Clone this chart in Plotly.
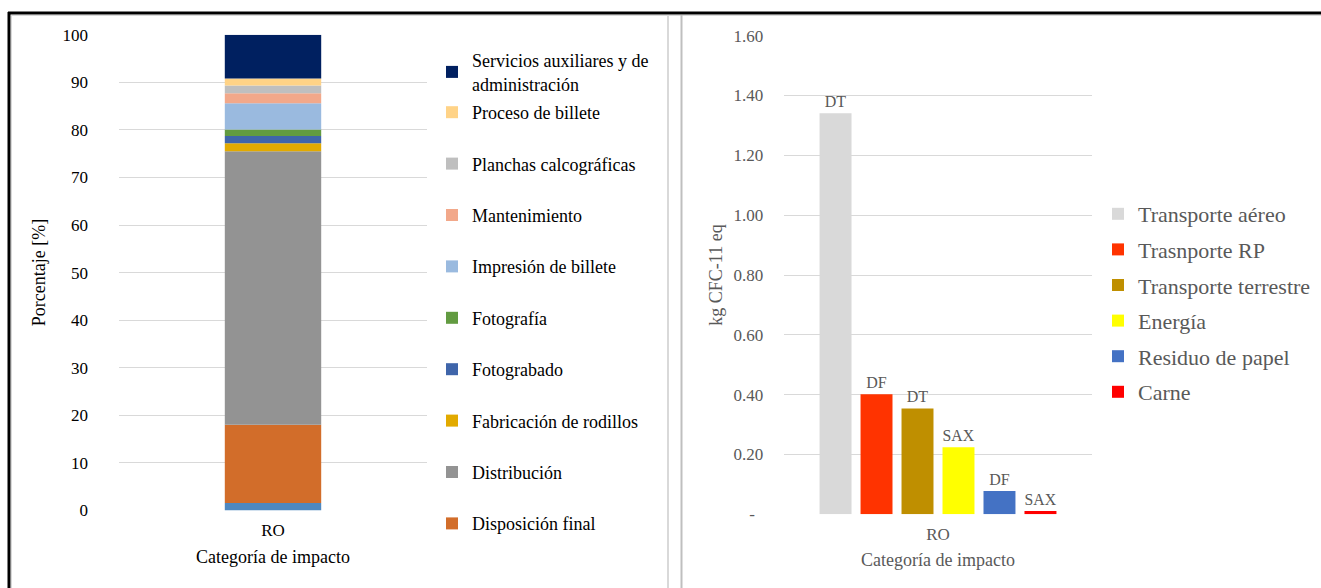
import numpy as np
import plotly.graph_objects as go

W, H = 1321, 588
FONT = "Liberation Serif"

# left chart: contribution by stage, percent (stacked bottom -> top)
stages = [
    "Otros",
    "Disposición final",
    "Distribución",
    "Fabricación de rodillos",
    "Fotograbado",
    "Fotografía",
    "Impresión de billete",
    "Mantenimiento",
    "Planchas calcográficas",
    "Proceso de billete",
    "Servicios auxiliares y de<br>administración",
]
stage_pct = [1.6, 16.4, 57.5, 1.7, 1.5, 1.4, 5.5, 2.1, 1.6, 1.5, 9.2]
stage_colors = [
    "#4E88C0", "#D26D2A", "#939393", "#E2AA00", "#3F65AA", "#629B41",
    "#9ABADF", "#F2A88A", "#BFBFBF", "#FFD387", "#002060",
]

# right chart: ozone depletion by source, kg CFC-11 eq
sources = ["Transporte aéreo", "Trasnporte RP", "Transporte terrestre",
           "Energía", "Residuo de papel", "Carne"]
source_vals = [1.341, 0.401, 0.354, 0.224, 0.078, 0.011]
source_tags = ["DT", "DF", "DT", "SAX", "DF", "SAX"]
source_colors = ["#D9D9D9", "#FF3300", "#BF8F00", "#FFFF00", "#4472C4", "#FF0000"]

category = ["RO"]
right_ticks = [0, 0.2, 0.4, 0.6, 0.8, 1.0, 1.2, 1.4, 1.6]


def px_x(x):
    return x / W


def px_y(y):
    return 1 - y / H


fig = go.Figure()

bases = np.concatenate([[0], np.cumsum(stage_pct)[:-1]])
last = len(stages) - 1
for i, (name, val, col) in enumerate(zip(stages, stage_pct, stage_colors)):
    fig.add_trace(go.Bar(
        x=category, y=[val], base=[bases[i]], name=name,
        marker_color=col, marker_line_width=0,
        width=0.313, offset=-0.1565, offsetgroup="stack",
        legendgroup=f"s{i}", legendrank=100 - i,
        showlegend=(i > 0),
        # the two-line entry sits in its own legend so spacing stays even
        legend="legend3" if i == last else "legend",
        xaxis="x", yaxis="y",
    ))

for i, (name, val, tag, col) in enumerate(zip(sources, source_vals, source_tags, source_colors)):
    fig.add_trace(go.Bar(
        x=category, y=[val], name=name, text=[tag],
        textposition="outside", cliponaxis=False,
        textfont=dict(family=FONT, size=16, color="#595959"),
        marker_color=col, marker_line_width=0,
        legendgroup=f"r{i}", legendrank=200 + i, legend="legend2",
        xaxis="x2", yaxis="y2",
    ))

axis_common = dict(showline=False, zeroline=False, ticks="")
black = dict(family=FONT, color="black")
gray = dict(family=FONT, color="#595959")
fig.update_layout(
    width=W, height=H, autosize=False,
    margin=dict(l=0, r=0, t=0, b=0, autoexpand=False),
    paper_bgcolor="white", plot_bgcolor="white",
    font=dict(family=FONT, size=17, color="black"),
    barmode="group", bargap=0.2, bargroupgap=0.22,
    xaxis=dict(
        domain=[px_x(119), px_x(427)], anchor="y", type="category",
        range=[-0.5, 0.5], showgrid=False,
        tickfont=dict(size=17, **black), ticklabelstandoff=7,
        title=dict(text="Categoría de impacto", font=dict(size=18, **black), standoff=11),
        **axis_common,
    ),
    yaxis=dict(
        domain=[px_y(510.5), px_y(34.7)], anchor="x", range=[0, 100],
        dtick=10, gridcolor="#D9D9D9", gridwidth=1,
        tickfont=dict(size=17, **black), ticklabelstandoff=30,
        title=dict(text="Porcentaje [%]", font=dict(size=18, **black), standoff=12),
        **axis_common,
    ),
    xaxis2=dict(
        domain=[px_x(784.3), px_x(1091.7)], anchor="y2", type="category",
        range=[-0.5, 0.5], showgrid=False,
        tickfont=dict(size=17, **gray), ticklabelstandoff=8,
        title=dict(text="Categoría de impacto", font=dict(size=18, **gray), standoff=10),
        **axis_common,
    ),
    yaxis2=dict(
        domain=[px_y(514.3), px_y(35.7)], anchor="x2", range=[0, 1.6],
        tickvals=right_ticks,
        ticktext=["-  " if v == 0 else f"{v:.2f}" for v in right_ticks],
        gridcolor="#D9D9D9", gridwidth=1,
        tickfont=dict(size=17, **gray), ticklabelstandoff=20,
        title=dict(text="kg CFC-11 eq", font=dict(size=18, **gray), standoff=6),
        **axis_common,
    ),
    legend3=dict(
        x=px_x(432), y=px_y(42), xanchor="left", yanchor="top",
        font=dict(size=18, **black), itemwidth=30,
        bgcolor="rgba(0,0,0,0)",
    ),
    legend=dict(
        x=px_x(432), y=px_y(94), xanchor="left", yanchor="top",
        traceorder="grouped", tracegroupgap=25,
        font=dict(size=18, **black), itemwidth=30,
        bgcolor="rgba(0,0,0,0)",
    ),
    legend2=dict(
        x=px_x(1098), y=px_y(193), xanchor="left", yanchor="top",
        traceorder="grouped", tracegroupgap=4,
        font=dict(size=22, **gray), itemwidth=30,
        bgcolor="rgba(0,0,0,0)",
    ),
)

# panel frames
frame = [
    dict(x0=px_x(8), x1=1, y0=px_y(13), y1=px_y(13), color="black", width=3),
    dict(x0=px_x(9), x1=px_x(9), y0=px_y(12), y1=0, color="black", width=3),
    dict(x0=px_x(11.5), x1=px_x(11.5), y0=px_y(15), y1=0, color="#D9D9D9", width=1),
    dict(x0=px_x(11), x1=1, y0=px_y(15.5), y1=px_y(15.5), color="#D9D9D9", width=1),
    dict(x0=px_x(668), x1=px_x(668), y0=px_y(15), y1=0, color="#D9D9D9", width=2),
    dict(x0=px_x(681.5), x1=px_x(681.5), y0=px_y(15), y1=0, color="#BFBFBF", width=2),
]
for f in frame:
    fig.add_shape(type="line", xref="paper", yref="paper",
                  x0=f["x0"], x1=f["x1"], y0=f["y0"], y1=f["y1"],
                  line=dict(color=f["color"], width=f["width"]))

fig.write_html(
    "out.html",
    config={"displayModeBar": False},
    post_script="document.body.style.margin='0px';document.body.style.overflow='hidden';",
)
